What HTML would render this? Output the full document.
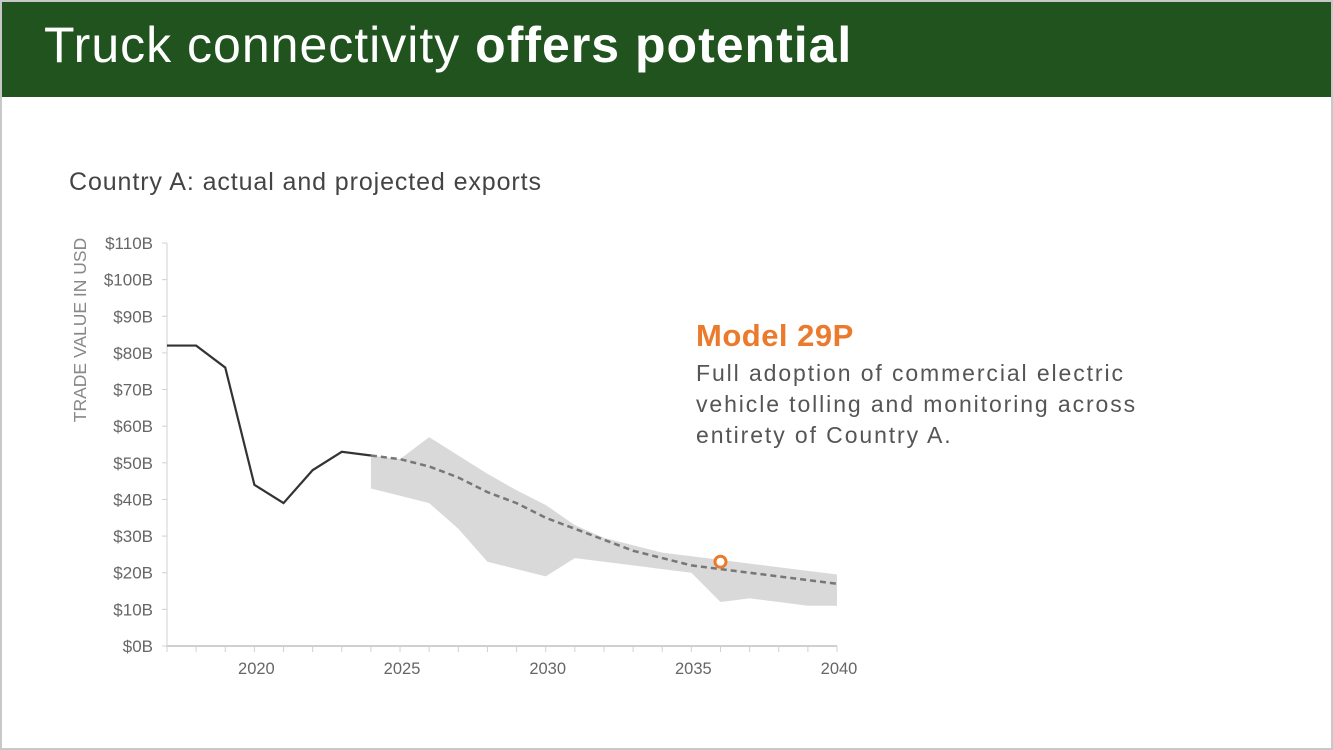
<!DOCTYPE html>
<html><head><meta charset="utf-8"><style>
html,body{margin:0;padding:0;}
body{width:1333px;height:750px;position:relative;overflow:hidden;background:#fff;font-family:"Liberation Sans",sans-serif;}
#frame{position:absolute;left:0;top:0;width:1329px;height:746px;border:2px solid #c8c8c8;}
#header{position:absolute;left:2px;top:2px;width:1329px;height:95px;background:#21531e;}
#title{position:absolute;left:44px;top:16px;font-size:50px;color:#fff;letter-spacing:1px;white-space:nowrap;}
#subtitle{position:absolute;left:69px;top:168px;font-size:25px;letter-spacing:0.9px;color:#444;white-space:nowrap;}
#model{position:absolute;left:696px;top:318px;font-size:31px;letter-spacing:0.5px;font-weight:bold;color:#ec7a2c;}
#desc{position:absolute;left:696px;top:358px;font-size:23px;letter-spacing:1.9px;line-height:31px;color:#555;white-space:nowrap;}
svg{position:absolute;left:0;top:0;}
</style></head><body>
<div id="frame"></div>
<div id="header"></div>
<div id="title">Truck connectivity <b>offers potential</b></div>
<div id="subtitle">Country A: actual and projected exports</div>
<div id="model">Model 29P</div>
<div id="desc">Full adoption of commercial electric<br>vehicle tolling and monitoring across<br>entirety of Country A.</div>
<svg id="chart" width="1333" height="750"></svg>
<script>
const actualYears=[2017,2018,2019,2020,2021,2022,2023,2024];
const actualValues=[82,82,76,44,39,48,53,52];
const projYears=[2024,2025,2026,2027,2028,2029,2030,2031,2032,2033,2034,2035,2036,2037,2038,2039,2040];
const projValues=[52,51,49,46,42,39,35,32,29,26,24,22,21,20,19,18,17];
const upperValues=[52,51,57,52,47,42.5,38.5,33,29.5,27.5,25.5,24.5,23.5,22.5,21.5,20.5,19.5];
const lowerValues=[43,41,39,32,23,21,19,24,23,22,21,20,12,13,12,11,11];
const markerYear=[2036];
const markerValue=[23];
const yTicks=[0,10,20,30,40,50,60,70,80,90,100,110];
const xLabels=[2020,2025,2030,2035,2040];

const NS="http://www.w3.org/2000/svg";
const svg=document.getElementById('chart');
const X0=167,X1=837,Y0=646,Y1=243;
function x(v){return X0+(v-2017)/(2040-2017)*(X1-X0);}
function y(v){return Y0-(v/110)*(Y0-Y1);}
function mk(t,a){const e=document.createElementNS(NS,t);for(const k in a)e.setAttribute(k,a[k]);svg.appendChild(e);return e;}

let pts=projYears.map((yr,i)=>x(yr)+','+y(upperValues[i]));
for(let i=projYears.length-1;i>=0;i--)pts.push(x(projYears[i])+','+y(lowerValues[i]));
let band=mk('polygon',{points:pts.join(' '),fill:'#d9d9d9'});



let ya=mk('line',{x1:X0,y1:Y1,x2:X0,y2:Y0,stroke:'#d0d0d0','stroke-width':1});


let xa=mk('line',{x1:X0,y1:Y0,x2:X1,y2:Y0,stroke:'#d0d0d0','stroke-width':2});


yTicks.forEach(v=>{
  mk('line',{x1:X0-5,y1:y(v),x2:X0,y2:y(v),stroke:'#d0d0d0'});
  let t=mk('text',{x:X0-14,y:y(v)+6,'text-anchor':'end','font-size':17,fill:'#666','font-family':'Liberation Sans, sans-serif'});
  t.textContent='$'+v+'B';
  
  
});
for(let yr=2017;yr<=2040;yr++){mk('line',{x1:x(yr),y1:Y0,x2:x(yr),y2:Y0+6,stroke:'#d0d0d0'});}
xLabels.forEach(v=>{
  let t=mk('text',{x:x(v)+2,y:Y0+28,'text-anchor':'middle','font-size':16.5,fill:'#666','font-family':'Liberation Sans, sans-serif'});
  t.textContent=v;
  
  
});
let yt=mk('text',{transform:'translate(86,330) rotate(-90)','text-anchor':'middle','font-size':17.5,fill:'#888','font-family':'Liberation Sans, sans-serif'});
yt.textContent='TRADE VALUE IN USD';



let al=mk('polyline',{points:actualYears.map((yr,i)=>x(yr)+','+y(actualValues[i])).join(' '),fill:'none',stroke:'#333','stroke-width':2.2});


let pl=mk('polyline',{points:projYears.map((yr,i)=>x(yr)+','+y(projValues[i])).join(' '),fill:'none',stroke:'#777','stroke-width':2.5,'stroke-dasharray':'6,4'});


let m=mk('circle',{cx:x(markerYear[0]),cy:y(markerValue[0]),r:5.5,fill:'#fff',stroke:'#ec7a2c','stroke-width':3});


</script>
</body></html>
